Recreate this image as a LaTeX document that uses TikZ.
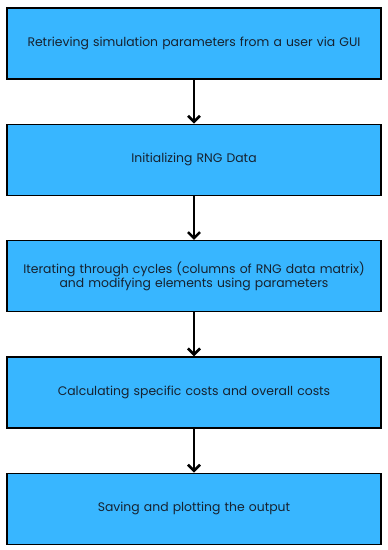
\documentclass[tikz,border=0pt]{standalone}
\usepackage{fontspec}
\setmainfont{Poppins}
\definecolor{stepblue}{RGB}{56, 182, 255}
\definecolor{steptext}{RGB}{22, 34, 48}
\usetikzlibrary{arrows.meta, positioning}

\begin{document}
\begin{tikzpicture}[x=1pt, y=1pt,
    stepbox/.style={draw=black, line width=1.3pt, fill=stepblue, minimum width=374pt, minimum height=71pt, text width=370pt, align=center, inner sep=0pt, font=\fontsize{12.4}{13.6}\selectfont, text=steptext},
    flow/.style={line width=2.6pt, -{Straight Barb[length=6pt, width=12pt, line width=2.6pt]}},
    node distance=44pt]
  \useasboundingbox (0,0) rectangle (388,-550);

  \node[stepbox] (params) at (194,-43.5) {Retrieving simulation parameters from a user via GUI};
  \node[stepbox, below=of params] (init) {Initializing RNG Data};
  \node[stepbox, below=of init] (cycles) {Iterating through cycles (columns of RNG data matrix)\\ and modifying elements using parameters};
  \node[stepbox, below=of cycles] (costs) {Calculating specific costs and overall costs};
  \node[stepbox, below=of costs] (output) {Saving and plotting the output};

  \draw[flow] (params) -- (init);
  \draw[flow] (init) -- (cycles);
  \draw[flow] (cycles) -- (costs);
  \draw[flow] (costs) -- (output);
\end{tikzpicture}
\end{document}
